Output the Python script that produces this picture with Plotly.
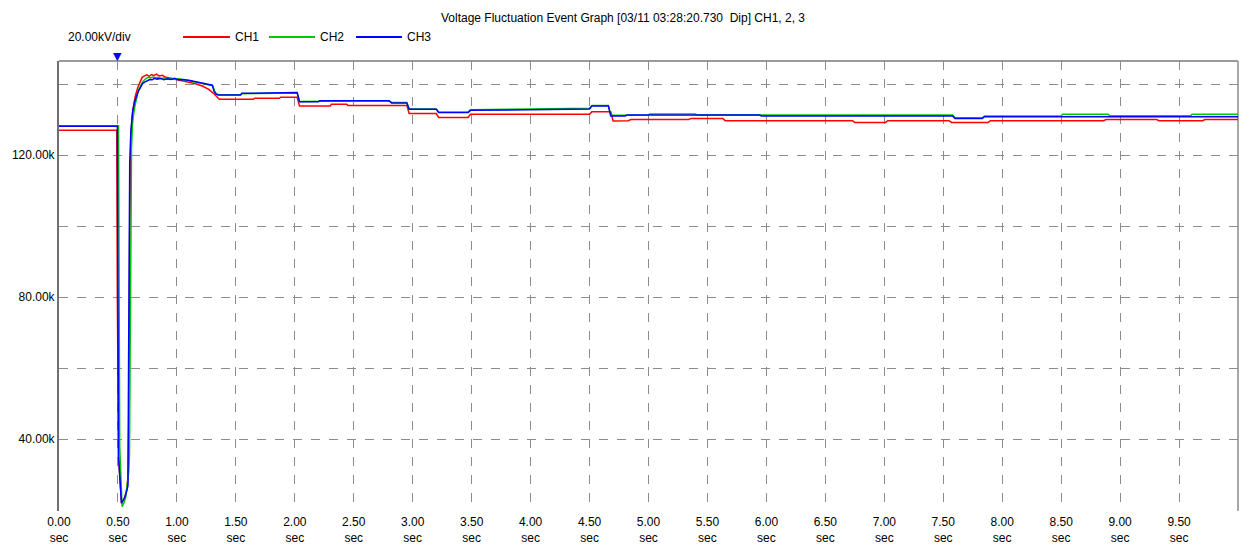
import plotly.graph_objects as go

# ---------------- data (kV vs seconds) ----------------
t_ch1 = [0.00, 0.490, 0.495, 0.505, 0.530, 0.550, 0.570, 0.585, 0.592, 0.600, 0.610, 0.620, 0.635, 0.650,
         0.670, 0.690, 0.705, 0.725, 0.745, 0.765, 0.785, 0.805, 0.825, 0.850, 0.875, 0.900, 0.940, 0.980,
         1.020, 1.060, 1.100, 1.160, 1.220, 1.270, 1.310, 1.340, 1.360, 1.650, 1.660, 1.870, 1.880, 2.020,
         2.040, 2.300, 2.310, 2.440, 2.450, 2.950, 2.970, 3.200, 3.220, 3.470, 3.490, 4.500, 4.520, 4.680,
         4.700, 4.830, 4.850, 5.340, 5.360, 5.630, 5.650, 6.730, 6.750, 7.010, 7.030, 7.550, 7.570, 7.880,
         7.900, 8.860, 8.880, 9.310, 9.330, 9.700, 9.720, 10.0]
v_ch1 = [127.0, 127.0, 80.0, 35.0, 22.0, 23.0, 25.0, 29.0, 45.0, 100.0, 125.0, 130.5, 134.5, 137.0,
         139.2, 141.0, 141.9, 142.3, 142.6, 142.2, 142.7, 142.4, 142.8, 142.3, 142.5, 142.0, 141.7, 141.3,
         141.0, 140.9, 140.6, 140.1, 139.4, 138.5, 137.4, 136.2, 135.7, 135.7, 136.0, 136.0, 136.3, 136.3,
         133.8, 133.8, 134.3, 134.3, 134.0, 134.0, 131.7, 131.7, 130.6, 130.6, 131.5, 131.5, 132.2, 132.2,
         129.6, 129.7, 130.0, 130.0, 130.3, 130.3, 129.7, 129.7, 129.2, 129.2, 129.7, 129.7, 129.2, 129.2,
         129.7, 129.7, 130.0, 130.0, 129.7, 129.7, 130.0, 130.0]

t_ch2 = [0.00, 0.505, 0.510, 0.515, 0.535, 0.550, 0.565, 0.580, 0.592, 0.598, 0.605, 0.615, 0.622, 0.630,
         0.645, 0.660, 0.675, 0.695, 0.715, 0.735, 0.755, 0.775, 0.795, 0.815, 0.835, 0.865, 0.895, 0.925,
         0.955, 0.985, 1.015, 1.055, 1.105, 1.155, 1.205, 1.255, 1.305, 1.320, 1.335, 1.355, 1.540, 1.550,
         1.720, 1.730, 2.020, 2.040, 2.200, 2.210, 2.800, 2.820, 2.950, 2.970, 3.200, 3.220, 3.470, 3.490,
         4.000, 4.500, 4.520, 4.660, 4.680, 4.800, 4.820, 5.000, 5.010, 5.400, 5.410, 7.580, 7.600, 7.830,
         7.850, 8.500, 8.510, 8.900, 8.910, 9.600, 9.610, 10.0]
v_ch2 = [128.3, 128.3, 80.0, 38.0, 21.0, 22.0, 23.5, 27.0, 31.0, 36.0, 80.0, 122.0, 128.0, 131.0,
         134.0, 136.5, 138.3, 139.8, 140.9, 141.5, 141.9, 141.7, 142.0, 141.7, 141.9, 141.5, 141.8, 141.4,
         141.6, 141.3, 141.5, 141.2, 141.0, 140.6, 140.2, 139.9, 139.5, 138.0, 137.3, 137.0, 137.0, 137.3,
         137.3, 137.5, 137.5, 135.1, 135.1, 135.3, 135.3, 134.8, 134.8, 133.0, 133.0, 132.1, 132.1, 132.8,
         133.1, 133.2, 134.0, 134.0, 131.2, 131.2, 131.3, 131.3, 131.6, 131.6, 131.3, 131.3, 130.5, 130.5,
         131.0, 131.0, 131.5, 131.5, 131.1, 131.1, 131.5, 131.5]

t_ch3 = [0.00, 0.495, 0.500, 0.505, 0.530, 0.545, 0.560, 0.575, 0.585, 0.590, 0.600, 0.610, 0.616, 0.625,
         0.640, 0.655, 0.670, 0.690, 0.710, 0.730, 0.750, 0.770, 0.790, 0.810, 0.830, 0.860, 0.890, 0.920,
         0.950, 0.980, 1.010, 1.050, 1.100, 1.150, 1.200, 1.250, 1.300, 1.315, 1.330, 1.350, 1.540, 1.550,
         1.720, 1.730, 2.020, 2.040, 2.200, 2.210, 2.800, 2.820, 2.950, 2.970, 3.200, 3.220, 3.470, 3.490,
         4.000, 4.500, 4.520, 4.660, 4.680, 4.800, 4.820, 5.940, 5.960, 7.580, 7.600, 7.830, 7.850, 10.0]
v_ch3 = [128.1, 128.1, 80.0, 35.0, 22.0, 22.8, 23.8, 25.5, 27.0, 60.0, 118.0, 127.0, 130.4, 132.5,
         134.8, 136.4, 137.8, 139.0, 140.2, 140.6, 141.0, 141.3, 141.2, 141.6, 141.4, 141.6, 141.2, 141.5,
         141.3, 141.6, 141.2, 141.3, 141.1, 140.8, 140.5, 140.1, 139.7, 138.0, 137.2, 136.9, 136.9, 137.4,
         137.4, 137.6, 137.6, 135.0, 135.0, 135.3, 135.3, 134.7, 134.7, 132.9, 132.9, 132.0, 132.0, 132.6,
         132.8, 133.0, 133.8, 133.8, 131.0, 131.0, 131.3, 131.3, 131.0, 131.0, 130.3, 130.3, 130.8, 130.8]

series_names = ["CH1", "CH2", "CH3"]
series_colors = ["#FF0000", "#00C800", "#0000FF"]

x_tickvals = [0.0, 0.5, 1.0, 1.5, 2.0, 2.5, 3.0, 3.5, 4.0, 4.5, 5.0, 5.5, 6.0, 6.5, 7.0, 7.5, 8.0, 8.5, 9.0, 9.5]
x_ticktext = ["0.00", "0.50", "1.00", "1.50", "2.00", "2.50", "3.00", "3.50", "4.00", "4.50",
              "5.00", "5.50", "6.00", "6.50", "7.00", "7.50", "8.00", "8.50", "9.00", "9.50"]
y_tickvals = [20, 40, 60, 80, 100, 120, 140]
y_ticktext = ["", "40.00k", "", "80.00k", "", "120.00k", ""]

trigger_time = [0.5]

title_text = "Voltage Fluctuation Event Graph [03/11 03:28:20.730  Dip] CH1, 2, 3"
scale_text = "20.00kV/div"

# ---------------- figure ----------------
FONT = "Liberation Sans, Arial, sans-serif"
fig = go.Figure()

for t, v, name, col in zip([t_ch1, t_ch2, t_ch3], [v_ch1, v_ch2, v_ch3], series_names, series_colors):
    fig.add_trace(go.Scatter(x=t, y=v, mode="lines", name=name,
                             line=dict(color=col, width=1.5), showlegend=False))

W, H = 1260, 545
L, R, T, B = 59, 22, 61, 34
pw, ph = W - L - R, H - T - B


def px(x):
    return (x - L) / pw


def py(y):
    return (H - B - y) / ph


annotations = [
    dict(text=title_text, x=px(623), y=py(18), xref="paper", yref="paper",
         xanchor="center", yanchor="middle", showarrow=False,
         font=dict(family=FONT, size=12, color="#000000")),
    dict(text=scale_text, x=px(66), y=py(37), xref="paper", yref="paper",
         xanchor="left", yanchor="middle", showarrow=False,
         font=dict(family=FONT, size=12, color="#000000")),
    # trigger marker
    dict(text="\u25BC", x=trigger_time[0], y=py(57), xref="x", yref="paper",
         xanchor="center", yanchor="middle", showarrow=False,
         font=dict(family="DejaVu Sans", size=11, color="#0000FF")),
]
shapes = []
leg_x = [(183, 230, 233), (269, 315, 318), (356, 402, 405)]
for (x0, x1, xt), name, col in zip(leg_x, series_names, series_colors):
    shapes.append(dict(type="line", xref="paper", yref="paper", x0=px(x0), x1=px(x1),
                       y0=py(37), y1=py(37), line=dict(color=col, width=2)))
    annotations.append(dict(text=name, x=px(xt), y=py(37), xref="paper", yref="paper",
                            xanchor="left", yanchor="middle", showarrow=False,
                            font=dict(family=FONT, size=12, color="#000000")))

# frame: top and right borders
shapes.append(dict(type="line", xref="paper", yref="paper", x0=0, x1=1, y0=1, y1=1,
                   line=dict(color="#9a9a9a", width=2), layer="below"))
shapes.append(dict(type="line", xref="paper", yref="paper", x0=1, x1=1, y0=0, y1=1,
                   line=dict(color="#a8a8a8", width=2), layer="below"))

fig.update_layout(
    width=W, height=H,
    margin=dict(l=L, r=R, t=T, b=B, pad=0, autoexpand=False),
    paper_bgcolor="#FFFFFF", plot_bgcolor="#FFFFFF",
    font=dict(family=FONT, size=12, color="#000000"),
    annotations=annotations, shapes=shapes,
    xaxis=dict(range=[0, 10], tickmode="array", tickvals=x_tickvals,
               ticktext=[s + "<br>sec" for s in x_ticktext], automargin=False,
               showgrid=True, gridcolor="#8c8c8c", griddash="dash", gridwidth=1,
               zeroline=False, showline=False, ticks="", ticklabelstandoff=2,
               tickfont=dict(family=FONT, size=12, color="#000000")),
    yaxis=dict(range=[19.8, 146.5], tickmode="array", tickvals=y_tickvals, ticktext=y_ticktext,
               automargin=False,
               showgrid=True, gridcolor="#8c8c8c", griddash="dash", gridwidth=1,
               zeroline=False, showline=True, linecolor="#707070", linewidth=2, ticks="",
               tickfont=dict(family=FONT, size=12, color="#000000")),
)

fig.write_html("out.html", config={"displayModeBar": False},
               post_script="document.body.style.margin='0px';document.body.style.overflow='hidden';")
